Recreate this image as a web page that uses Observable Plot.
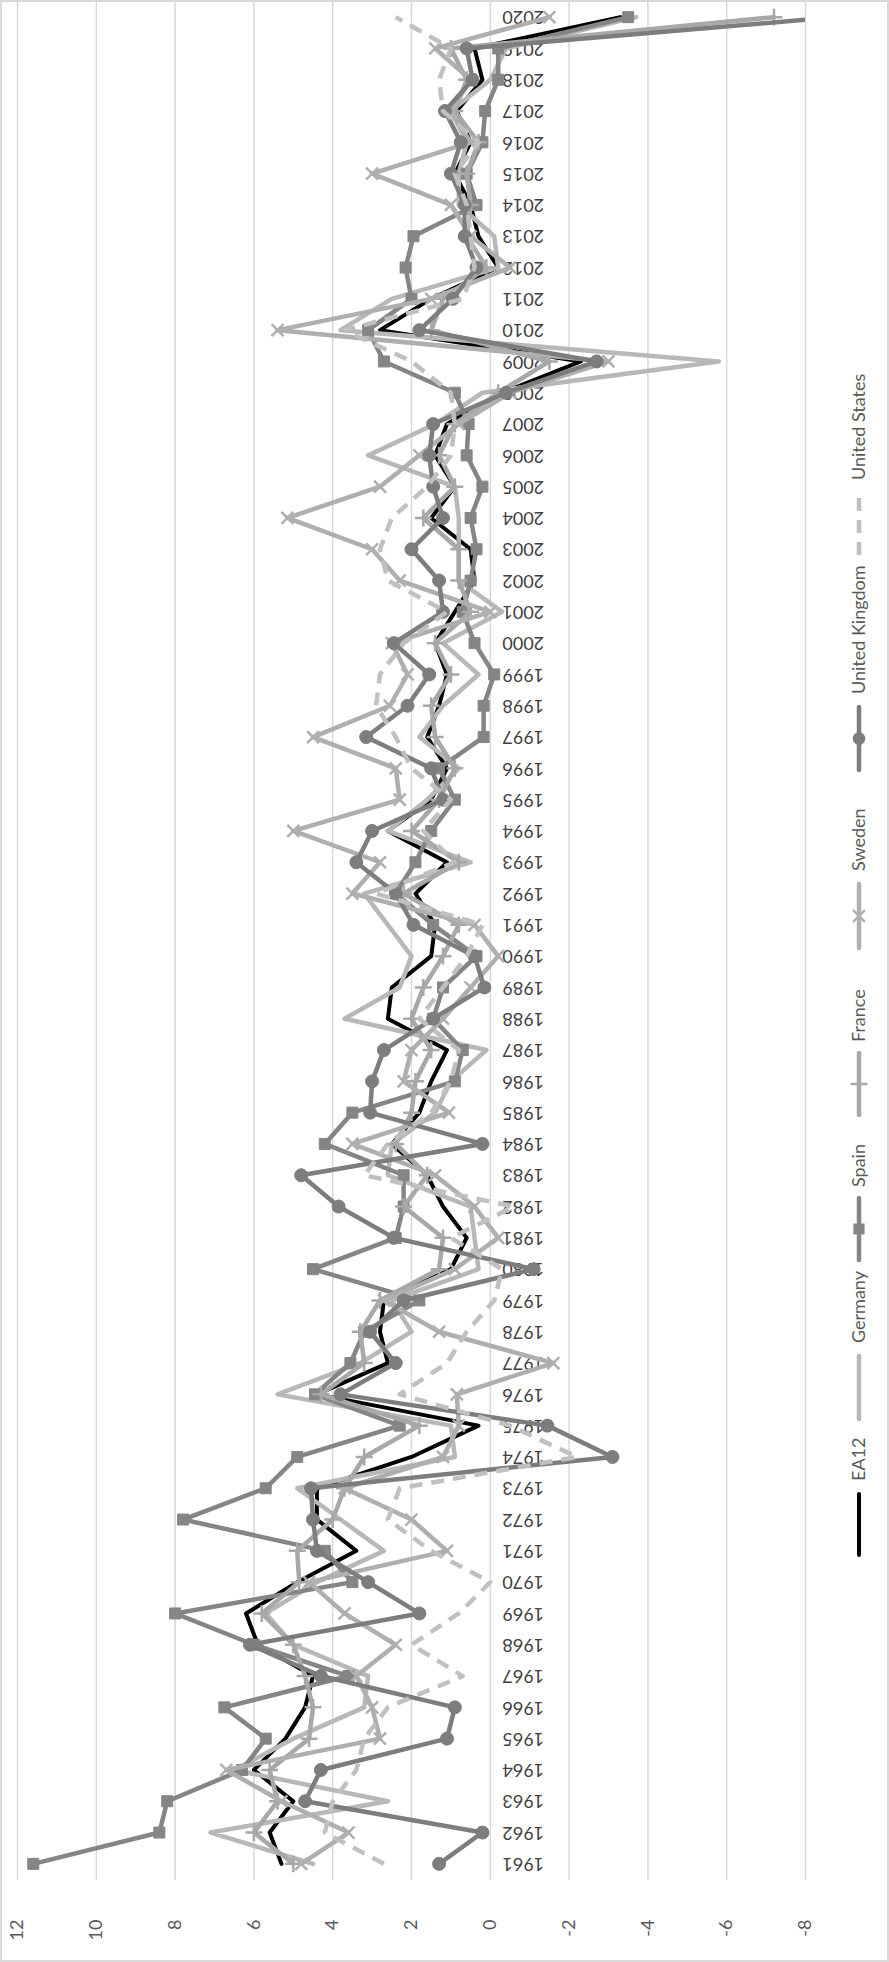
<!DOCTYPE html>
<html><head><meta charset="utf-8">
<script src="https://cdn.jsdelivr.net/npm/d3@7"></script>
<script src="https://cdn.jsdelivr.net/npm/@observablehq/plot@0.6"></script>
<style>
html,body{margin:0;padding:0;background:#fff;overflow:hidden;width:889px;height:1962px;}
#wrap{position:absolute;left:0;top:0;width:1962px;height:889px;transform-origin:0 0;transform:translateY(1962px) rotate(-90deg);background:#fff;font-family:Lato,"Open Sans",sans-serif;}
#border{position:absolute;left:0;top:0;width:1962px;height:889px;box-sizing:border-box;border:2px solid #d9d9d9;pointer-events:none;}
#legend{position:absolute;left:0;top:830px;width:1962px;height:59px;font-size:18px;color:#595959;}
.key{position:absolute;top:19px;}
.lab{position:absolute;top:0;line-height:57px;white-space:nowrap;}
</style></head>
<body><div id="wrap"><div id="chart"></div><div id="legend"></div><div id="border"></div></div>
<script>
const years = [1961,1962,1963,1964,1965,1966,1967,1968,1969,1970,1971,1972,1973,1974,1975,1976,1977,1978,1979,1980,1981,1982,1983,1984,1985,1986,1987,1988,1989,1990,1991,1992,1993,1994,1995,1996,1997,1998,1999,2000,2001,2002,2003,2004,2005,2006,2007,2008,2009,2010,2011,2012,2013,2014,2015,2016,2017,2018,2019,2020];
const valueTicks = [12,10,8,6,4,2,0,-2,-4,-6,-8];

const ea12 = [5.3,5.6,5.0,6.0,5.2,4.7,4.5,5.9,6.2,4.9, 3.4,4.4,4.4,2.0,0.3,4.4,2.6,2.8,2.7,1.0, 0.6,1.2,1.6,2.5,1.8,1.5,1.1,2.6,2.5,1.5, 1.4,1.9,1.1,2.6,1.5,1.1,1.6,1.3,1.1,1.4, 0.9,0.4,0.5,1.5,0.9,1.4,1.1,-0.3,-2.3,2.8, 1.5,-0.2,0.3,0.5,0.9,0.5,0.85,0.2,0.4,-3.3];
const germany = [4.5,7.1,2.6,6.5,5.0,3.2,3.1,5.0,5.7,4.4, 2.7,3.8,4.9,0.9,1.0,5.4,3.3,2.0,2.5,0.3, 0.4,0.5,2.6,2.5,1.4,1.0,0.1,3.7,2.3,2.0, 2.6,3.2,0.5,2.6,1.6,0.8,1.8,1.2,0.3,1.2, -0.3,0.8,0.8,0.8,0.9,3.1,1.4,0.2,-5.8,3.8, 2.5,-0.2,-0.1,0.8,0.8,0.6,1.0,0.0,-0.4,-3.7];
const spain = [11.6,8.4,8.2,6.3,5.7,6.75,3.6,6.0,8.0,3.5, 4.2,7.8,5.7,4.9,2.3,4.45,3.55,3.2,1.8,4.5, 2.4,2.2,2.2,4.2,3.5,0.9,0.7,1.45,1.2,0.35, 1.45,2.4,1.9,1.5,0.9,1.3,0.17,0.17,-0.1,0.4, 0.7,0.5,0.35,0.5,0.2,0.6,0.55,0.9,2.7,3.1, 2.0,2.15,1.95,0.35,0.6,0.2,0.13,-0.2,-0.2,-3.5];
const france = [5.0,6.0,5.4,5.6,4.6,4.5,4.7,5.0,5.8,4.85, 4.9,4.0,3.7,3.2,1.8,4.3,3.2,3.3,2.8,1.3, 1.2,2.2,1.6,2.4,2.0,1.9,1.5,2.0,1.7,1.2, 0.8,2.2,0.8,2.0,1.3,0.9,1.4,1.5,1.0,1.4, 0.5,0.8,0.8,1.7,0.9,1.3,0.9,-0.2,-1.5,1.5, 1.2,0.1,0.6,0.5,0.6,0.3,0.9,0.6,1.0,-7.2];
const sweden = [4.8,3.6,5.3,6.7,2.8,3.0,3.4,2.4,3.7,4.6, 1.1,2.0,3.7,1.2,0.8,0.85,-1.6,1.3,2.7,0.9, -0.2,0.4,1.4,3.5,1.05,2.2,2.0,1.2,0.5,-0.2, 0.4,3.5,2.8,5.0,2.3,2.4,4.5,2.55,2.1,2.5, 0.0,2.3,3.0,5.15,2.8,1.8,0.8,-0.5,-3.0,5.4, 1.5,-0.5,0.5,1.0,3.0,0.5,1.0,0.5,1.4,-1.5];
const uk = [1.3,0.2,4.7,4.3,1.1,0.9,4.3,6.1,1.8,3.1, 4.4,4.5,4.55,-3.1,-1.45,3.8,2.4,3.05,2.2,-1.1, 2.45,3.85,4.8,0.2,3.05,3.0,2.7,1.45,0.15,0.4, 1.95,2.4,3.4,3.0,1.2,1.5,3.15,2.1,1.55,2.45, 1.2,1.3,2.0,1.2,1.45,1.55,1.45,-0.4,-2.7,1.8, 0.95,0.35,0.65,0.65,1.0,0.75,1.15,0.45,0.6,-8.8];
const us = [2.7,4.2,4.0,3.4,3.2,2.6,0.7,2.0,0.8,0.0, 1.5,2.6,2.3,-2.2,-0.5,2.3,1.1,0.6,-0.1,-0.3, 1.0,-0.6,3.2,2.6,1.5,1.0,0.8,1.8,1.2,0.6, 0.2,2.9,0.9,1.7,1.0,2.0,2.4,2.9,2.8,2.2, 1.1,2.6,2.8,2.5,1.6,1.0,0.9,1.0,2.0,3.7, 0.7,0.4,0.5,0.6,0.9,0.3,1.2,1.3,1.0,2.4];

const seriesNames = ["EA12","Germany","Spain","France","Sweden","United Kingdom","United States"];
const seriesValues = [ea12, germany, spain, france, sweden, uk, us];
const seriesStyle = [
  {color:"#000000", width:4, dash:null, symbol:null},
  {color:"#b8b8b8", width:4.5, dash:null, symbol:null},
  {color:"#858585", width:4.5, dash:null, symbol:"square"},
  {color:"#a8a8a8", width:4.5, dash:null, symbol:"plus"},
  {color:"#afafaf", width:4.5, dash:null, symbol:"times"},
  {color:"#7d7d7d", width:4.5, dash:null, symbol:"circle"},
  {color:"#c0c0c0", width:4.5, dash:"13,9", symbol:null}
];
// legend key positions along the (unrotated) chart width: key start, key end, label start
const legendPos = [[405,470,481],[541,608,619],[700,766,775],[845,911,920],[1012,1080,1091],[1190,1257,1268],[1405,1470,1482]];

const marks = [
  Plot.ruleY(valueTicks, {stroke:"#d9d9d9", strokeWidth:1.5}),
  Plot.text(years, {x:d=>d, y:()=>0, text:d=>String(d), rotate:-90, textAnchor:"end", lineAnchor:"middle", dy:12, fontSize:18, fill:"#404040"})
];
seriesNames.forEach((name, k) => {
  const st = seriesStyle[k];
  const data = years.map((yr, i) => ({year: yr, value: seriesValues[k][i]}));
  marks.push(Plot.line(data, {x:"year", y:"value", stroke:st.color, strokeWidth:st.width, strokeDasharray:st.dash, strokeLinejoin:"round", strokeLinecap: st.dash ? "butt" : "round", clip:true}));
  if (st.symbol === "square" || st.symbol === "circle") {
    marks.push(Plot.dot(data, {x:"year", y:"value", symbol:st.symbol, r: st.symbol === "square" ? 6.2 : 6.5, fill:st.color, stroke:st.color, strokeWidth:1, clip:true}));
  } else if (st.symbol) {
    marks.push(Plot.dot(data, {x:"year", y:"value", symbol:st.symbol, r:5.5, stroke:st.color, strokeWidth:2.5, fill:"none", clip:true}));
  }
});

const chart = Plot.plot({
  width: 1962, height: 830,
  marginLeft: 82, marginRight: 2, marginTop: 17, marginBottom: 25,
  style: {background: "transparent", fontFamily: "Lato, 'Open Sans', sans-serif", fontSize: "18px", color: "#595959", overflow: "visible"},
  x: {domain: [1960.5, 2020.5], axis: null},
  y: {domain: [-8, 12], ticks: valueTicks, tickSize: 0, tickPadding: 40, label: null, tickFormat: d => String(d)},
  marks
});
document.getElementById("chart").appendChild(chart);

// legend
const legend = document.getElementById("legend");
const ns = "http://www.w3.org/2000/svg";
seriesNames.forEach((name, k) => {
  const st = seriesStyle[k];
  const [k0, k1, t0] = legendPos[k];
  const w = k1 - k0;
  const svg = document.createElementNS(ns, "svg");
  svg.setAttribute("class", "key");
  svg.setAttribute("width", w); svg.setAttribute("height", 20);
  svg.style.left = k0 + "px";
  const ln = document.createElementNS(ns, "line");
  ln.setAttribute("x1", 2); ln.setAttribute("x2", w - 2); ln.setAttribute("y1", 10); ln.setAttribute("y2", 10);
  ln.setAttribute("stroke", st.color); ln.setAttribute("stroke-width", st.width);
  ln.setAttribute("stroke-linecap", st.dash ? "butt" : "round");
  if (st.dash) ln.setAttribute("stroke-dasharray", "13,9");
  svg.appendChild(ln);
  if (st.symbol) {
    const sym = d3.symbol().type({square:d3.symbolSquare, circle:d3.symbolCircle, plus:d3.symbolPlus, times:d3.symbolTimes}[st.symbol]).size(st.symbol === "square" || st.symbol === "circle" ? 125 : 95);
    const p = document.createElementNS(ns, "path");
    p.setAttribute("d", sym());
    p.setAttribute("transform", `translate(${w / 2},10)`);
    if (st.symbol === "square" || st.symbol === "circle") { p.setAttribute("fill", st.color); }
    else { p.setAttribute("fill", "none"); p.setAttribute("stroke", st.color); p.setAttribute("stroke-width", 2.5); }
    svg.appendChild(p);
  }
  legend.appendChild(svg);
  const t = document.createElement("div");
  t.className = "lab";
  t.style.left = t0 + "px";
  t.textContent = name;
  legend.appendChild(t);
});
</script>
</body></html>
